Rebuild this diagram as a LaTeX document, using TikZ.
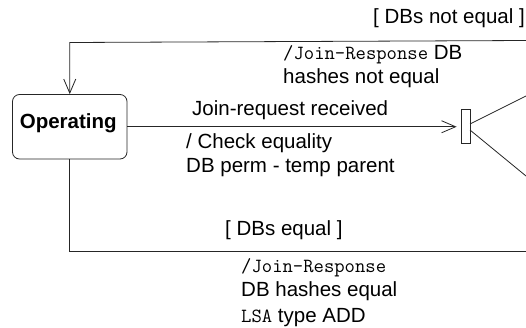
\documentclass[tikz,border=0pt]{standalone}
\usepackage{fontspec}
\setmainfont{Liberation Sans}
\setmonofont{Latin Modern Mono}
\usetikzlibrary{arrows.meta}
\tikzset{
  x=1pt,y=-1pt,
  wire/.style={line width=0.8pt,draw=black!85},
  txt/.style={anchor=base west,inner sep=0pt,font=\fontsize{20.5}{20.5}\selectfont},
  barb/.style={-{Straight Barb[length=14pt,width=12pt,line width=0.8pt]}},
  statebox/.style={draw=black!85,line width=0.8pt,rounded corners=7pt,minimum width=114.5pt,minimum height=64.5pt,inner sep=0pt},
  forkbar/.style={draw=black!85,line width=0.8pt,minimum width=9pt,minimum height=34pt,inner sep=0pt},
}
\newcommand{\mono}[1]{{\fontsize{20.1}{20.1}\selectfont\ttfamily #1}}
\begin{document}
\begin{tikzpicture}
\useasboundingbox (0,0) rectangle (526,327);
\node[statebox,label={[name=opl,inner sep=0pt,font=\fontsize{20.5}{20.5}\selectfont\bfseries,xshift=-1.5pt,yshift=3.2pt]center:Operating}] (op) at (69.75,126.75) {};
\node[forkbar] (fork) at (465.5,126) {};
\coordinate (topend) at (526,40.5);
\coordinate (topcorner) at (op.north |- 0,42.5);
\coordinate (botcorner) at (op.south |- 0,251.5);
\coordinate (botend) at (526,251.5);
\coordinate (upend) at (526,96);
\coordinate (downend) at (526,176);
\coordinate (forkup) at (470,124);
\coordinate (forkdown) at (470,130);
\draw[wire,barb] (topend) -- (topcorner) -- (op.north);
\draw[wire,barb,shorten >=4pt] (op.east) -- (fork.west |- op.east);
\draw[wire] (op.south) -- (botcorner) -- (botend);
\draw[wire] (forkup) -- (upend);
\draw[wire] (forkdown) -- (downend);
\node[txt] (t1) at (373,23) {[ DBs not equal ]};
\node[txt] (t2) at (283,59) {\mono{/Join-Response} DB};
\node[txt] (t3) at (283,83) {hashes not equal};
\node[txt] (t4) at (192,115) {Join-request received};
\node[txt] (t5) at (186,148) {/ Check equality};
\node[txt] (t6) at (186,172) {DB perm - temp parent};
\node[txt] (t7) at (225,235) {[ DBs equal ]};
\node[txt] (t8) at (241,272) {\mono{/Join-Response}};
\node[txt] (t9) at (241,296) {DB hashes equal};
\node[txt] (t10) at (241,322) {\mono{LSA} type ADD};
\end{tikzpicture}
\end{document}
